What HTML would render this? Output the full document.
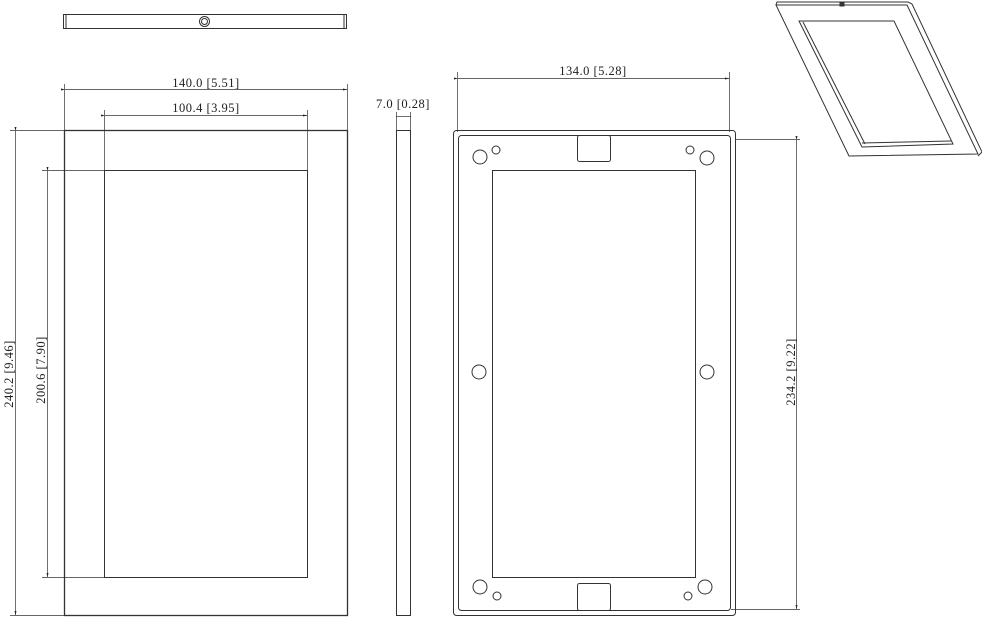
<!DOCTYPE html>
<html><head><style>
body{margin:0;background:#fff}
svg{display:block}
text{font-family:"Liberation Serif",serif;font-size:12.5px;fill:#222;text-anchor:middle;letter-spacing:0.5px}
</style></head><body>
<svg width="982" height="624" viewBox="0 0 982 624" xmlns="http://www.w3.org/2000/svg">
<defs><marker id="a" markerWidth="6" markerHeight="6" refX="6" refY="3" orient="auto"><path d="M0,1.5 L6,3 L0,4.5z" fill="#222"/></marker></defs>
<g stroke="#333" fill="none" stroke-width="1">
<rect x="63.5" y="14.5" width="283" height="14"/>
<line x1="66" y1="15" x2="66" y2="28"/><line x1="344" y1="15" x2="344" y2="28"/>
<circle cx="204.5" cy="21.5" r="5"/><circle cx="204.5" cy="21.5" r="3"/>
<rect x="64.5" y="130.5" width="283" height="485" stroke-width="1.3"/>
<rect x="104.5" y="170.5" width="203" height="407"/>
<g stroke-width="0.7">
<line x1="64.5" y1="84" x2="64.5" y2="130"/><line x1="347.5" y1="84" x2="347.5" y2="130"/>
<line x1="65" y1="89.5" x2="347" y2="89.5" marker-start="url(#a)" marker-end="url(#a)"/>
<line x1="104.5" y1="110" x2="104.5" y2="170"/><line x1="307.5" y1="110" x2="307.5" y2="170"/>
<line x1="105" y1="115.5" x2="307" y2="115.5" marker-start="url(#a)" marker-end="url(#a)"/>
<line x1="10" y1="130.5" x2="64" y2="130.5"/><line x1="10" y1="615.5" x2="64" y2="615.5"/>
<line x1="15.5" y1="131" x2="15.5" y2="615" marker-start="url(#a)" marker-end="url(#a)"/>
<line x1="42" y1="170.5" x2="104" y2="170.5"/><line x1="42" y1="577.5" x2="104" y2="577.5"/>
<line x1="47.5" y1="171" x2="47.5" y2="577" marker-start="url(#a)" marker-end="url(#a)"/>
</g>
<rect x="396.5" y="130.5" width="14" height="485"/>
<line x1="396.5" y1="112" x2="396.5" y2="130" stroke-width="0.7"/><line x1="410.5" y1="112" x2="410.5" y2="130" stroke-width="0.7"/>
<line x1="396" y1="116.5" x2="411" y2="116.5" stroke-width="0.7"/>
<rect x="453.5" y="130.5" width="282" height="485" rx="3"/>
<rect x="458.5" y="135.5" width="272" height="475" rx="3"/>
<rect x="492.5" y="170.5" width="203" height="407"/>
<rect x="577.5" y="135.5" width="33" height="26" rx="2"/>
<rect x="577.5" y="583.5" width="33" height="27" rx="2"/>
<circle cx="480" cy="157" r="7"/><circle cx="496" cy="150" r="4"/>
<circle cx="690" cy="150" r="4"/><circle cx="707" cy="158" r="7"/>
<circle cx="479" cy="372" r="7"/><circle cx="707" cy="372" r="7"/>
<circle cx="480" cy="587" r="7"/><circle cx="497" cy="596" r="4"/>
<circle cx="688" cy="596" r="4"/><circle cx="705" cy="587" r="7"/>
<g stroke-width="0.7">
<line x1="457.5" y1="72" x2="457.5" y2="132"/><line x1="729.5" y1="72" x2="729.5" y2="132"/>
<line x1="458" y1="78.5" x2="729" y2="78.5" marker-start="url(#a)" marker-end="url(#a)"/>
<line x1="736" y1="139.5" x2="800" y2="139.5"/><line x1="731" y1="609.5" x2="800" y2="609.5"/>
<line x1="796.5" y1="140" x2="796.5" y2="609" marker-start="url(#a)" marker-end="url(#a)"/>
</g>
<path d="M776,5 L907,5 L978,154 L849,156 Z"/>
<path d="M776,5 L777,2 L908,2 L912,4 L982,152 L978,156"/>
<path d="M799,21 L894,21 L953,144 L862,147 Z"/>
<path d="M803,22 L865,144"/>
<path d="M862,143 L951,141"/>
<rect x="840" y="3" width="4" height="3" fill="#333"/>
</g>
<text x="206" y="87">140.0 [5.51]</text>
<text x="206" y="112">100.4 [3.95]</text>
<text x="403" y="108">7.0 [0.28]</text>
<text x="593" y="75">134.0 [5.28]</text>
<text transform="translate(13,374) rotate(-90)">240.2 [9.46]</text>
<text transform="translate(45,370) rotate(-90)">200.6 [7.90]</text>
<text transform="translate(795,372) rotate(-90)">234.2 [9.22]</text>
</svg>
</body></html>
